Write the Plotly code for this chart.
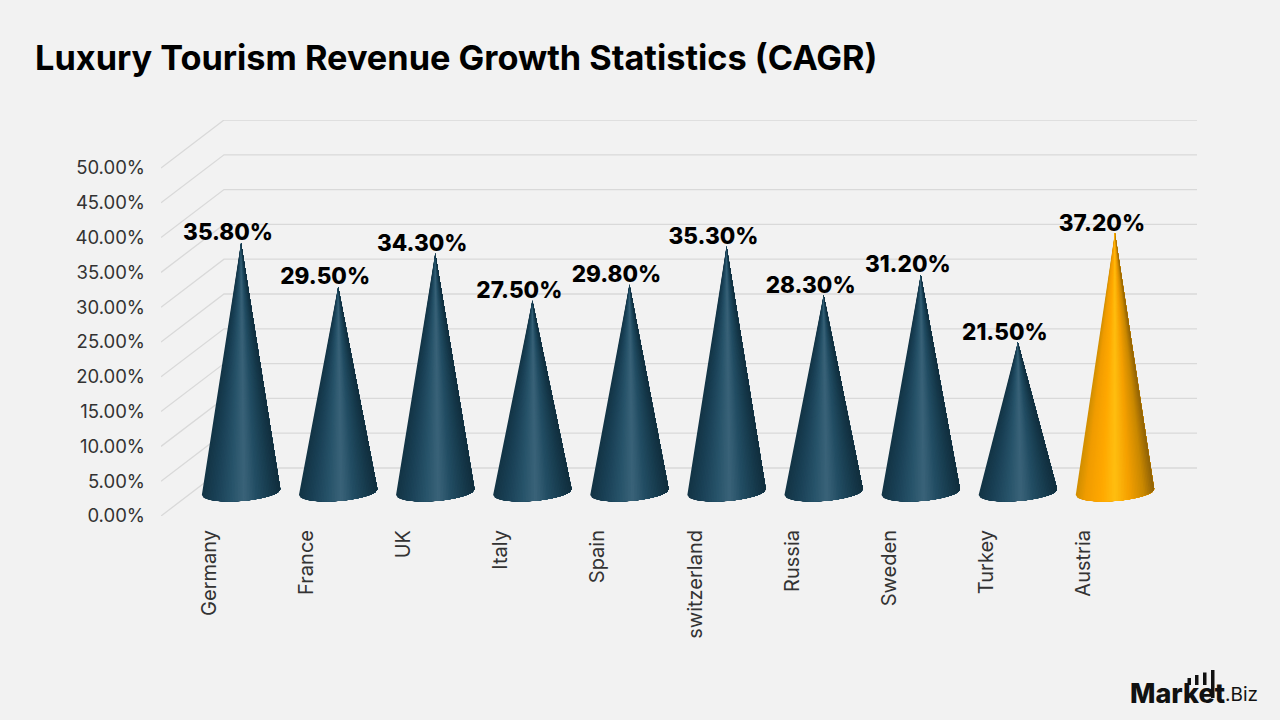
import numpy as np
import plotly.graph_objects as go

# Chart content
title = "Luxury Tourism Revenue Growth Statistics (CAGR)"
countries = ["Germany", "France", "UK", "Italy", "Spain", "switzerland",
             "Russia", "Sweden", "Turkey", "Austria"]
cagr = [35.8, 29.5, 34.3, 27.5, 29.8, 35.3, 28.3, 31.2, 21.5, 37.2]
axis_ticks = [0, 5, 10, 15, 20, 25, 30, 35, 40, 45, 50]
highlighted = "Austria"

# Styling
BG = "#f2f2f2"
GRID = "#d9d9d9"
TEXT = "#333333"
FONT = "Inter"
BLUE_STOPS = [(0.0, "#133445"), (0.18, "#1a4156"), (0.38, "#27536a"), (0.54, "#3a6379"),
              (0.7, "#224d63"), (0.88, "#163a4c"), (1.0, "#112e3d")]
GOLD_STOPS = [(0.0, "#d08e00"), (0.12, "#f09c00"), (0.33, "#ffa800"), (0.5, "#ffbe10"),
              (0.68, "#f5a000"), (0.87, "#c98800"), (1.0, "#8f6206")]

# Plot frame in pixels and the pseudo-3D depth of the chart floor, in axis units
LEFT, RIGHT, TOP, BOTTOM = 161, 1197, 120, 516
PX_PER_CAT = 97.1
PX_PER_PCT = 6.96
DEPTH_X = 63 / PX_PER_CAT
DEPTH_Y = 48 / PX_PER_PCT
CONE_RX = 39.2 / PX_PER_CAT
CONE_RY = 9.0 / PX_PER_PCT
CONE_TILT = 3.0 / PX_PER_PCT
BANDS = 48


def band_color(stops, u):
    pos = [s[0] for s in stops]
    rgb = np.array([[int(s[1][i:i + 2], 16) for i in (1, 3, 5)] for s in stops], float)
    vals = [np.interp(u, pos, rgb[:, c]) for c in range(3)]
    return "rgb({:.0f},{:.0f},{:.0f})".format(*vals)


def cone_outline(center, value, u_start):
    """Outline from the tip around the base, from fraction u_start to the right edge."""
    y0 = DEPTH_Y / 2
    us = np.linspace(u_start, 1, max(2, int((1 - u_start) * 40) + 2))
    cos_t = 2 * us - 1
    sin_t = np.sqrt(1 - cos_t ** 2)
    xs = center + CONE_RX * cos_t
    ys = y0 - CONE_RY * sin_t + CONE_TILT * cos_t
    return [center] + list(xs) + [center], [y0 + value] + list(ys) + [y0 + value]


fig = go.Figure()
x_max = (RIGHT - LEFT) / PX_PER_CAT - 0.5

# Floor edge and back wall lines for every axis tick
for tick in axis_ticks:
    fig.add_trace(go.Scatter(
        x=[-0.5, -0.5 + DEPTH_X, x_max],
        y=[tick, tick + DEPTH_Y, tick + DEPTH_Y],
        mode="lines", line=dict(color=GRID, width=1.3),
        hoverinfo="skip", showlegend=False,
    ))

# Cones: overlapping slices painted left to right give the shaded surface
positions = np.arange(len(countries))
for family in (False, True):
    idx = [i for i, c in enumerate(countries) if (c == highlighted) == family]
    stops = GOLD_STOPS if family else BLUE_STOPS
    for band in range(BANDS):
        u = band / BANDS
        xs, ys = [], []
        for i in idx:
            ox, oy = cone_outline(positions[i] + DEPTH_X / 2, cagr[i], u)
            xs += ox + [None]
            ys += oy + [None]
        fig.add_trace(go.Scatter(
            x=xs, y=ys, mode="lines", fill="toself",
            fillcolor=band_color(stops, u + 0.5 / BANDS),
            line=dict(width=0), hoverinfo="skip", showlegend=False,
        ))

# Value labels above each tip
fig.add_trace(go.Scatter(
    x=positions + DEPTH_X / 2 - 13 / PX_PER_CAT,
    y=[v + DEPTH_Y / 2 + 8 / PX_PER_PCT for v in cagr],
    text=[f"{v:.2f}%" for v in cagr],
    mode="text", textposition="middle center",
    textfont=dict(family=FONT, size=22.5, color="#000000", weight=800),
    cliponaxis=False, hoverinfo="skip", showlegend=False,
))

fig.update_xaxes(
    range=[-0.5, x_max],
    tickmode="array", tickvals=list(positions), ticktext=countries,
    tickangle=-90, ticks="", ticklabelstandoff=9,
    tickfont=dict(family=FONT, size=20, color=TEXT),
    showgrid=False, zeroline=False, showline=False, fixedrange=True,
)
fig.update_yaxes(
    range=[0, (BOTTOM - TOP) / PX_PER_PCT],
    tickmode="array", tickvals=axis_ticks,
    ticktext=[f"{t:.2f}%" for t in axis_ticks],
    ticks="", ticklabelstandoff=15,
    tickfont=dict(family=FONT, size=18.5, color=TEXT),
    showgrid=False, zeroline=False, showline=False, fixedrange=True,
)


def paper_x(px):
    return (px - LEFT) / (RIGHT - LEFT)


def paper_y(py):
    return (BOTTOM - py) / (BOTTOM - TOP)


# Wordmark in the bottom corner
logo_bars = [(1187.5, 1191, 678), (1195, 1198.5, 675), (1203, 1206.5, 672.5), (1211, 1214.5, 670)]
shapes = [dict(type="rect", xref="paper", yref="paper", layer="above",
               x0=paper_x(a), x1=paper_x(b), y0=paper_y(685 if a < 1210 else 698), y1=paper_y(top),
               fillcolor="#111111", line=dict(width=0))
          for a, b, top in logo_bars]

fig.update_layout(
    width=1280, height=720, autosize=False,
    margin=dict(l=LEFT, r=1280 - RIGHT, t=TOP, b=720 - BOTTOM, pad=0),
    paper_bgcolor=BG, plot_bgcolor=BG,
    font=dict(family=FONT, color=TEXT),
    showlegend=False, hovermode=False,
    title=dict(text=title, x=35 / 1280, xanchor="left", xref="container",
               y=1 - 58 / 720, yanchor="middle", yref="container",
               font=dict(family=FONT, size=34.3, color="#000000", weight=700)),
    shapes=shapes,
    annotations=[
        dict(text="Market", xref="paper", yref="paper", x=paper_x(1226), y=paper_y(693),
             xanchor="right", yanchor="middle", showarrow=False, borderpad=0,
             font=dict(family=FONT, size=27, color="#111111", weight=800)),
        dict(text=".Biz", xref="paper", yref="paper", x=paper_x(1224), y=paper_y(694),
             xanchor="left", yanchor="middle", showarrow=False, borderpad=0,
             font=dict(family=FONT, size=19, color="#111111")),
    ],
)

fig.write_html("out.html", config=dict(displayModeBar=False))
